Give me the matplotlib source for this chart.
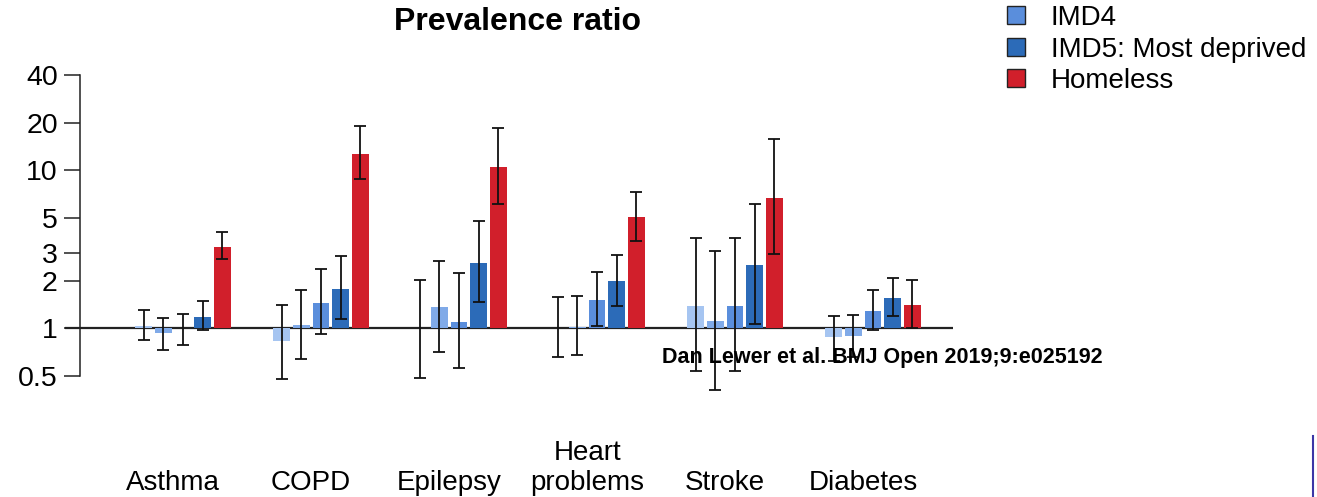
import numpy as np
import matplotlib.pyplot as plt
from matplotlib.lines import Line2D
from matplotlib import transforms

plt.rcParams['font.family'] = ['Liberation Sans', 'DejaVu Sans']

categories = ["Asthma", "COPD", "Epilepsy", "Heart\nproblems", "Stroke", "Diabetes"]
series = ["IMD2", "IMD3", "IMD4", "IMD5: Most deprived", "Homeless"]

# prevalence ratios and 95% CIs, one list per series (order of categories)
imd2 = [1.03, 0.83, 1.00, 1.00, 1.39, 0.88]
imd2_lo = [0.84, 0.48, 0.485, 0.66, 0.54, 0.62]
imd2_hi = [1.30, 1.40, 2.02, 1.57, 3.74, 1.19]

imd3 = [0.93, 1.045, 1.37, 1.02, 1.11, 0.89]
imd3_lo = [0.73, 0.64, 0.71, 0.68, 0.41, 0.66]
imd3_hi = [1.16, 1.76, 2.68, 1.61, 3.10, 1.21]

imd4 = [1.00, 1.45, 1.097, 1.52, 1.39, 1.29]
imd4_lo = [0.78, 0.915, 0.56, 1.03, 0.54, 0.98]
imd4_hi = [1.23, 2.36, 2.25, 2.28, 3.74, 1.76]

imd5 = [1.18, 1.78, 2.60, 1.98, 2.52, 1.55]
imd5_lo = [0.97, 1.15, 1.46, 1.38, 1.07, 1.19]
imd5_hi = [1.49, 2.85, 4.78, 2.93, 6.1, 2.09]

homeless = [3.27, 12.6, 10.5, 5.04, 6.7, 1.41]
homeless_lo = [2.74, 8.8, 6.1, 3.57, 2.94, 1.01]
homeless_hi = [4.05, 19.0, 18.4, 7.3, 15.8, 2.01]

colors = ["#a6c5f1", "#80aae8", "#5a8edc", "#2c6bb8", "#d11f2b"]

yticks = [0.5, 1, 2, 3, 5, 10, 20, 40]
ytick_labels = ["0.5", "1", "2", "3", "5", "10", "20", "40"]

W, H = 1317, 497
fig = plt.figure(figsize=(W / 100, H / 100), dpi=100)
ax = fig.add_axes([65 / W, (H - 376) / H, (953 - 65) / W, (376 - 75) / H])

x = np.arange(len(categories))
step = 0.143
width = 0.123
all_vals = [imd2, imd3, imd4, imd5, homeless]
all_lo = [imd2_lo, imd3_lo, imd4_lo, imd5_lo, homeless_lo]
all_hi = [imd2_hi, imd3_hi, imd4_hi, imd5_hi, homeless_hi]

ax.axhline(1, color="#222222", lw=1.6, zorder=1)

for k in range(len(series)):
    v = np.array(all_vals[k])
    lo = np.array(all_lo[k])
    hi = np.array(all_hi[k])
    xs = x + (k - 2) * step
    ax.bar(xs, v - 1, bottom=1, width=width, color=colors[k], zorder=2)
    ax.errorbar(xs, v, yerr=[v - lo, hi - v], fmt="none", ecolor="#111111",
                elinewidth=1.3, capsize=4.2, capthick=1.3, zorder=3, clip_on=False)

ax.set_yscale("log")
ax.set_ylim(0.5, 40)
ax.set_xlim((65 - 183) / 138, (953 - 183) / 138)
ax.set_yticks(yticks)
ax.set_yticklabels(ytick_labels)
ax.minorticks_off()
ax.tick_params(axis="y", length=11.5, width=1.1, labelsize=20.5, pad=4.5, color="#222222")
ax.set_xticks([])
for s in ["top", "right", "bottom"]:
    ax.spines[s].set_visible(False)
ax.spines["left"].set_position(("data", (80 - 183) / 138))
ax.spines["left"].set_bounds(0.5, 40)
ax.spines["left"].set_linewidth(1.1)
ax.spines["left"].set_color("#222222")

label_tr = transforms.blended_transform_factory(ax.transData, fig.transFigure)
for i, c in enumerate(categories):
    ax.text(x[i] - 0.072, 0.002, c, transform=label_tr,
            ha="center", va="bottom", fontsize=20, linespacing=1.22)

fig.text(517 / W, (H - 22) / H, "Prevalence ratio", ha="center", va="center",
         fontsize=23, fontweight="bold")

# visible part of the legend (top entries are cut off in the original)
handles = [Line2D([], [], marker="s", ls="none", markersize=13.5, markerfacecolor=colors[k],
                  markeredgecolor="#222222", markeredgewidth=1.0) for k in (2, 3, 4)]
fig.legend(handles, ["IMD4", "IMD5: Most deprived", "Homeless"], loc="upper left",
           bbox_to_anchor=(1002 / W, 0.99), frameon=False, fontsize=20, handlelength=1.0,
           handletextpad=0.75, labelspacing=0.2, borderpad=0, borderaxespad=0)

fig.text(662 / W, (H - 357) / H, "Dan Lewer et al. BMJ Open 2019;9:e025192", ha="left",
         va="center", fontsize=15.5, fontweight="bold")

fig.add_artist(Line2D([1313 / W, 1313 / W], [0, (H - 436) / H], color="#3b36a6", lw=1.5))

fig.savefig("out.png", dpi=100)
